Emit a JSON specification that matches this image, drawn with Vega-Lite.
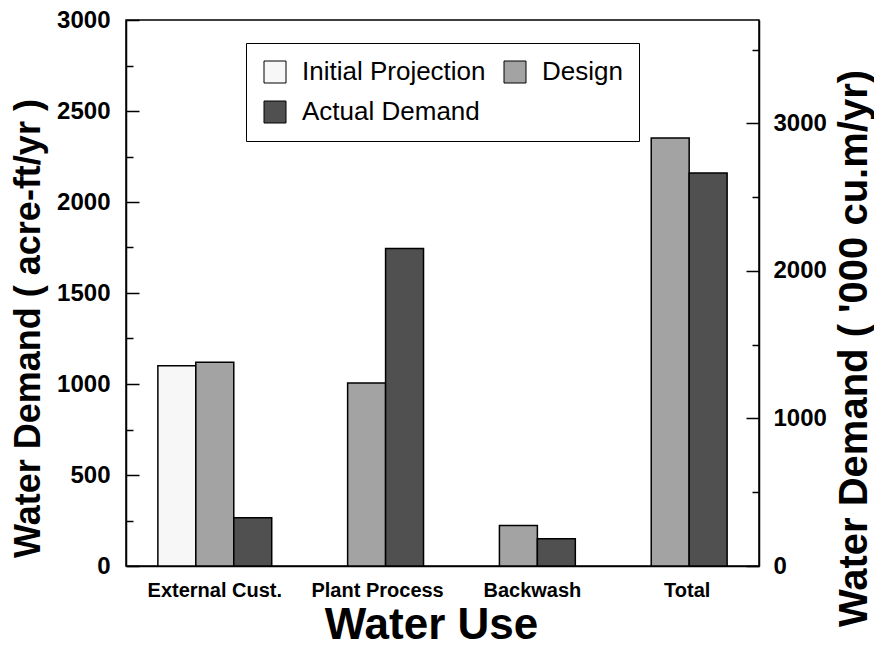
{
  "$schema": "https://vega.github.io/schema/vega-lite/v6.json",
  "width": 633,
  "height": 546,
  "autosize": {"type": "none"},
  "padding": {"left": 126, "top": 20, "right": 115, "bottom": 87},
  "background": "white",
  "config": {
    "font": "Liberation Sans",
    "view": {"stroke": "black", "strokeWidth": 1.5},
    "axis": {"domainColor": "black", "domainWidth": 1.5, "tickColor": "black", "labelColor": "black", "titleColor": "black", "grid": false}
  },
  "data": {
    "values": [
      {"use": "External Cust.", "series": "Initial Projection", "value": 1100},
      {"use": "External Cust.", "series": "Design", "value": 1120},
      {"use": "External Cust.", "series": "Actual Demand", "value": 265},
      {"use": "Plant Process", "series": "Design", "value": 1005},
      {"use": "Plant Process", "series": "Actual Demand", "value": 1745},
      {"use": "Backwash", "series": "Design", "value": 223},
      {"use": "Backwash", "series": "Actual Demand", "value": 150},
      {"use": "Total", "series": "Design", "value": 2352},
      {"use": "Total", "series": "Actual Demand", "value": 2160}
    ]
  },
  "encoding": {
    "x": {
      "field": "use", "type": "nominal", "sort": null,
      "scale": {"domain": ["External Cust.", "Plant Process", "Backwash", "Total"], "paddingInner": 0.25, "paddingOuter": 0.21},
      "axis": {
        "title": "Water Use", "labelAngle": 0, "ticks": false, "labelPadding": 14, "labelFontSize": 20, "labelFontWeight": "bold",
        "labelOffset": {"condition": [
          {"test": "datum.value === 'Plant Process'", "value": 11},
          {"test": "datum.value === 'Backwash'", "value": 14},
          {"test": "datum.value === 'Total'", "value": 17}
        ], "value": 0},
        "titleFontSize": 44, "titleFontWeight": "bold", "titlePadding": 3, "titleX": 305
      }
    }
  },
  "layer": [
    {
      "mark": {"type": "bar", "stroke": "black", "strokeWidth": 1.5},
      "encoding": {
        "xOffset": {"field": "series", "type": "nominal", "scale": {"domain": ["Initial Projection", "Design", "Actual Demand"], "paddingInner": 0, "paddingOuter": 0}},
        "y": {
          "field": "value", "type": "quantitative",
          "scale": {"domain": [0, 3000], "nice": false},
          "axis": {
            "orient": "left", "format": "d",
            "values": [0, 500, 1000, 1500, 2000, 2500, 3000],
            "ticks": true, "tickSize": -13, "tickWidth": 1.5,
            "labelFontSize": 24, "labelFontWeight": "bold", "labelPadding": 29,
            "title": "Water Demand ( acre-ft/yr )", "titleFontSize": 36, "titleFontWeight": "bold",
            "titleBaseline": "alphabetic", "titleX": -87, "titleY": 308
          }
        },
        "color": {
          "field": "series", "type": "nominal",
          "scale": {"domain": ["Initial Projection", "Design", "Actual Demand"], "range": ["#f7f7f7", "#a3a3a3", "#505050"]},
          "legend": {
            "title": null, "orient": "none", "legendX": 120, "legendY": 23,
            "columns": 2, "direction": "horizontal",
            "symbolType": "square", "symbolSize": 484, "symbolStrokeColor": "black", "symbolStrokeWidth": 1, "symbolOpacity": 1,
            "labelFontSize": 26, "labelFont": "Liberation Sans", "labelColor": "black", "labelOffset": 14, "labelLimit": 400,
            "rowPadding": 14, "columnPadding": 16,
            "padding": 16, "fillColor": "white", "strokeColor": "black"
          }
        }
      }
    },
    {
      "mark": {"type": "tick", "opacity": 0},
      "encoding": {
        "y": {
          "field": "value", "type": "quantitative",
          "scale": {"domain": [0, 3700], "nice": false},
          "axis": {
            "orient": "right", "format": "d",
            "values": [0, 1000, 2000, 3000],
            "ticks": true, "tickSize": -13, "tickWidth": 1.5,
            "labelFontSize": 24, "labelFontWeight": "bold", "labelPadding": 27,
            "title": "Water Demand ( '000 cu.m/yr)", "titleFontSize": 40, "titleFontWeight": "bold",
            "titleAngle": 270, "titleBaseline": "alphabetic", "titleX": 107, "titleY": 328
          }
        }
      }
    },
    {
      "mark": {"type": "tick", "opacity": 0},
      "encoding": {
        "y": {
          "field": "value", "type": "quantitative",
          "scale": {"domain": [0, 3000], "nice": false},
          "axis": {
            "orient": "left", "offset": 0, "values": [250, 750, 1250, 1750, 2250, 2750],
            "labels": false, "title": null, "domain": false,
            "ticks": true, "tickSize": -7, "tickWidth": 1.5
          }
        }
      }
    },
    {
      "mark": {"type": "tick", "opacity": 0},
      "encoding": {
        "y": {
          "field": "value", "type": "quantitative",
          "scale": {"domain": [0, 3700], "nice": false},
          "axis": {
            "orient": "right", "offset": 0, "values": [500, 1500, 2500, 3500],
            "labels": false, "title": null, "domain": false,
            "ticks": true, "tickSize": -7, "tickWidth": 1.5
          }
        }
      }
    }
  ],
  "resolve": {"scale": {"y": "independent"}}
}
